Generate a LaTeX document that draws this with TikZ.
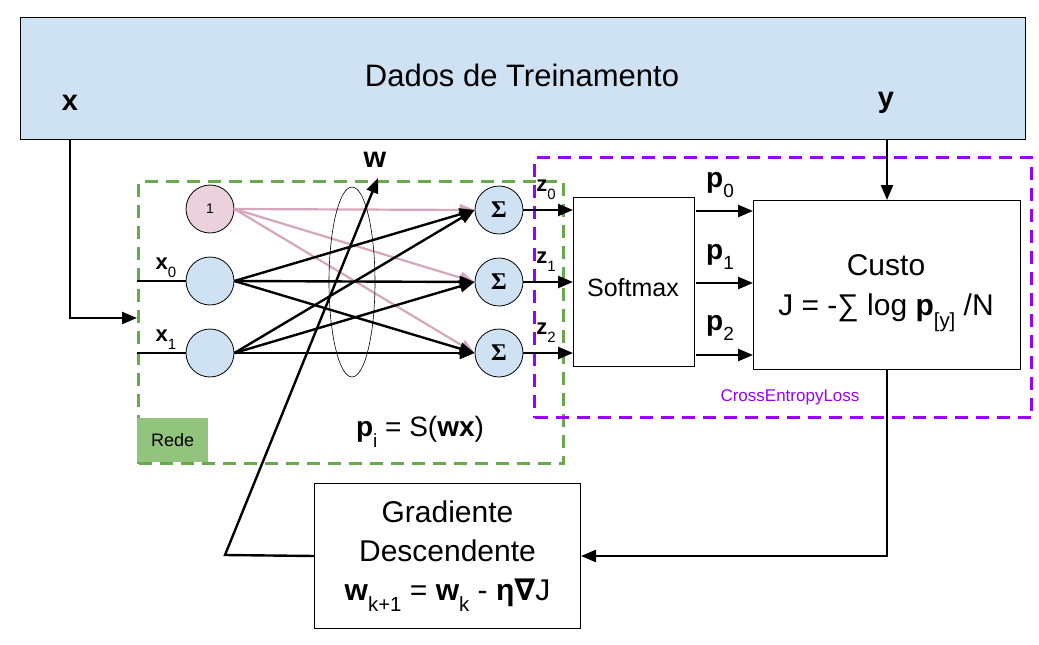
\documentclass[tikz,border=0pt]{standalone}
\usepackage{fontspec}
\setmainfont{Liberation Sans}
\newfontfamily\grserif{Liberation Serif}
\newfontfamily\djv{DejaVu Sans}
\usetikzlibrary{arrows.meta,shapes.geometric}
\definecolor{lblue}{HTML}{CFE2F3}
\definecolor{lpink}{HTML}{EAD1DC}
\definecolor{pinkline}{HTML}{D5A6BD}
\definecolor{gdash}{HTML}{6AA84F}
\definecolor{gfill}{HTML}{93C47D}
\definecolor{purp}{HTML}{9900FF}
\newcommand\fsz[1]{\fontsize{#1}{#1}\selectfont}
\newcommand\lowsub[1]{\raisebox{-0.38em}{\fontsize{0.68em}{0.68em}\selectfont #1}}
\begin{document}
\begin{tikzpicture}[x=1pt,y=-1pt,
  boxst/.style={draw, line width=1pt, anchor=north west, inner sep=0pt, align=center},
  neuron/.style={circle, draw, line width=0.8pt, minimum size=48pt, inner sep=0pt, fill=lblue},
  arr/.style={line width=2.4pt, -{Triangle[length=15pt,width=12pt]}},
  parr/.style={line width=2.2pt, draw=pinkline, -{Triangle[length=15pt,width=12pt]}},
  plain/.style={line width=2.4pt},
  lbl/.style={inner sep=0pt},
  gbox/.style={draw=gdash, line width=3pt, dash pattern=on 13pt off 8pt},
  pbox/.style={draw=purp, line width=3pt, dash pattern=on 13pt off 8pt}
]
\useasboundingbox (0,0) rectangle (1039,645);

% training data box
\node[boxst, fill=lblue, minimum width=1005pt, minimum height=122pt] (dados) at (20,17) {};
\node[lbl] (titulo) at (522,75) {\fsz{31}Dados de Treinamento};
\node[lbl] (xl) at (70,103) {\fsz{29}\textbf{x}};
\node[lbl] (yl) at (886,103) {\fsz{29}\textbf{y}};

% green network box
\node[anchor=north west, minimum width=425pt, minimum height=282pt, inner sep=0pt, gbox] (rede) at (137,180) {};
\node[anchor=north west, fill=gfill, minimum width=71pt, minimum height=44pt, inner sep=0pt] (redelbl) at (137,418) {\fsz{18}Rede};

% purple loss box
\node[anchor=north west, minimum width=497pt, minimum height=260pt, inner sep=0pt, pbox] (cel) at (533,156) {};
\node[lbl, text=purp] (cellbl) at (790,397) {\fsz{17}CrossEntropyLoss};

% neurons
\node[neuron, fill=lpink] (b) at (210,209) {\fsz{14}1};
\node[neuron] (x0) at (210,281) {};
\node[neuron] (x1) at (210,353) {};
\node[neuron] (s0) at (499,210) {\fsz{24}\grserif\bfseries Σ};
\node[neuron] (s1) at (499,282) {\fsz{24}\grserif\bfseries Σ};
\node[neuron] (s2) at (499,353) {\fsz{24}\grserif\bfseries Σ};

% inputs
\coordinate (in0) at (137,281);
\coordinate (in1) at (137,353);
\draw[plain] (in0) -- (x0.west);
\draw[plain] (in1) -- (x1.west);
\node[lbl] (x0l) at (166,268) {\fsz{22}\textbf{x}\lowsub{0}};
\node[lbl] (x1l) at (166,340) {\fsz{22}\textbf{x}\lowsub{1}};

% x arrow
\coordinate (xtop) at (70,139);
\coordinate (xcorner) at (70,318);
\draw[arr] (xtop) -- (xcorner) -- (xcorner -| rede.west);

% weights
\foreach \s in {s0,s1,s2} {\draw[parr] (b.east) -- (\s.west);}
\foreach \i in {x0,x1} {\foreach \s in {s0,s1,s2} {\draw[arr] (\i.east) -- (\s.west);}}
\node[draw, ellipse, line width=0.6pt, minimum width=46pt, minimum height=190pt, inner sep=0pt] (ell) at (352,282) {};

% softmax
\node[boxst, minimum width=121pt, minimum height=169pt] (soft) at (573,197) {};
\node[lbl] (softtxt) at (633,288) {\fsz{25}Softmax};
\draw[arr] (s0.east) -- (s0 -| soft.west);
\draw[arr] (s1.east) -- (s1 -| soft.west);
\draw[arr] (s2.east) -- (s2 -| soft.west);
\node[lbl] (z0l) at (546,190) {\fsz{22}\textbf{z}\lowsub{0}};
\node[lbl] (z1l) at (546,262) {\fsz{22}\textbf{z}\lowsub{1}};
\node[lbl] (z2l) at (546,333) {\fsz{22}\textbf{z}\lowsub{2}};

% custo
\node[boxst, minimum width=267pt, minimum height=169pt] (custo) at (753,200) {};
\node[lbl, align=center, font=\fontsize{30}{40}\selectfont] (custotxt) at (886,293) {Custo\\ J = -∑ log \textbf{p}\lowsub{[y]} /N};
\coordinate (p0a) at (696,211);
\coordinate (p1a) at (696,283);
\coordinate (p2a) at (696,355);
\draw[arr] (p0a) -- (p0a -| custo.west);
\draw[arr] (p1a) -- (p1a -| custo.west);
\draw[arr] (p2a) -- (p2a -| custo.west);
\node[lbl] (p0l) at (720,185) {\fsz{28}\textbf{p}\lowsub{0}};
\node[lbl] (p1l) at (720,257) {\fsz{28}\textbf{p}\lowsub{1}};
\node[lbl] (p2l) at (720,328) {\fsz{28}\textbf{p}\lowsub{2}};
\draw[arr] (dados.south -| custo.north) -- (custo.north);

% gradient
\node[boxst, minimum width=266pt, minimum height=145pt, font=\fontsize{30}{39}\selectfont] (gd) at (314,483) {Gradiente\\ Descendente\\ \textbf{w}\lowsub{k+1} = \textbf{w}\lowsub{k} - \textbf{η}{\djv\bfseries ∇}J};
\draw[arr] (custo.south) -- (custo.south |- gd.east) -- (gd.east);
\coordinate (wk) at (225,555);
\coordinate (wtip) at (378,178);
\draw[arr] (gd.west) -- (wk) -- (wtip);
\node[lbl] (wl) at (375,160) {\fsz{29}\textbf{w}};

% formula
\node[lbl] (pform) at (420,432) {\fsz{28}\textbf{p}\lowsub{i} = S(\textbf{wx})};
\end{tikzpicture}
\end{document}
